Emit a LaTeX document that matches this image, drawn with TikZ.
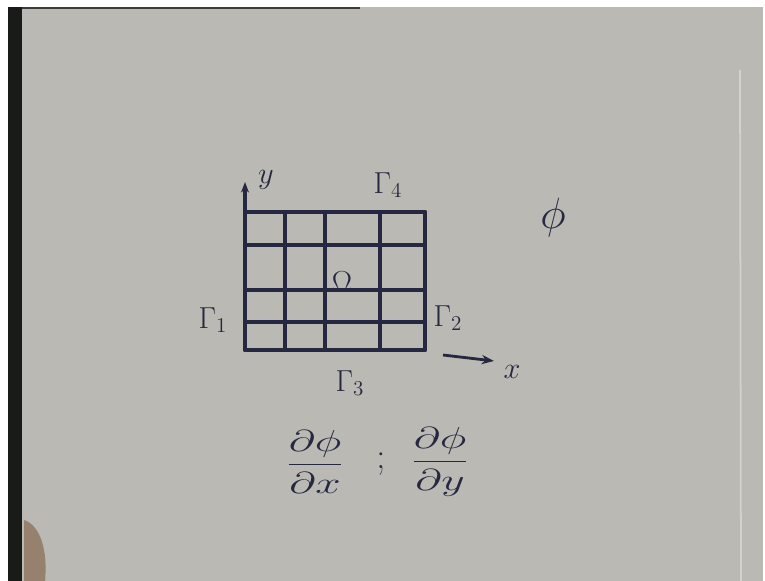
\documentclass[tikz,border=0pt]{standalone}
\usepackage{amsmath}
\usepackage{amssymb}
\usepackage{xcolor}
\usepackage{tikz}
\usetikzlibrary{arrows.meta}
\definecolor{board}{RGB}{186,185,179}
\definecolor{frame}{RGB}{24,27,24}
\definecolor{ink}{RGB}{38,40,66}
\definecolor{hand}{RGB}{150,128,110}
\tikzset{
    gridline/.style={ink, line width=2.2pt, line cap=round},
    lbl/.style={ink, font=\LARGE},
    frac/.style={ink, font=\LARGE, xscale=1.5},
}

\begin{document}
\begin{tikzpicture}[x=0.02cm, y=-0.02cm]

    % board and frame
    \useasboundingbox (0,0) rectangle (765,581);
    \fill[white] (0,0) rectangle (765,581);
    \fill[board] (8,7) rectangle (763,581);
    \fill[frame] (8,7) rectangle (22,581);
    \fill[frame!80!board] (22,7) rectangle (360,9);
    \draw[white!35!board, line width=1pt] (740,70) -- (741,581);
    \fill[hand] (24,520) .. controls (40,525) and (48,550) .. (45,581) -- (24,581) -- cycle;

    % mesh
    \foreach \gx in {245,285,325,380,425}
        \draw[gridline] (\gx,212) -- (\gx,350);
    \foreach \gy in {212,245,290,322,350}
        \draw[gridline] (245,\gy) -- (425,\gy);

    % axes
    \coordinate (ybase) at (245,212);
    \coordinate (ytip) at (245,182);
    \draw[gridline, -{Stealth[length=6pt]}] (ybase) -- (ytip);
    \node[lbl] (ylabel) at (266,180) {$y$};

    \coordinate (xtail) at (443,355);
    \coordinate (xtip) at (494,361);
    \node[lbl] (xlabel) at (512,372) {$x$};
    \draw[ink, line width=1.6pt, -{Stealth[length=7pt]}] (xtail) -- (xtip);

    % boundaries
    \node[lbl] (gamma4) at (388,185) {$\Gamma_4$};
    \node[lbl] (gamma1) at (213,320) {$\Gamma_1$};
    \node[lbl] (gamma2) at (448,318) {$\Gamma_2$};
    \node[lbl] (gamma3) at (350,383) {$\Gamma_3$};
    \node[ink, font=\LARGE] (omega) at (342,282) {$\Omega$};

    \node[ink, font=\Huge] (phi) at (553,218) {$\phi$};

    \node[frac] (dphidx) at (315,462) {$\dfrac{\partial\phi}{\partial x}$};
    \node[ink, font=\huge] (semi) at (381,464) {$;$};
    \node[frac] (dphidy) at (440,462) {$\dfrac{\partial\phi}{\partial y}$};

\end{tikzpicture}
\end{document}
